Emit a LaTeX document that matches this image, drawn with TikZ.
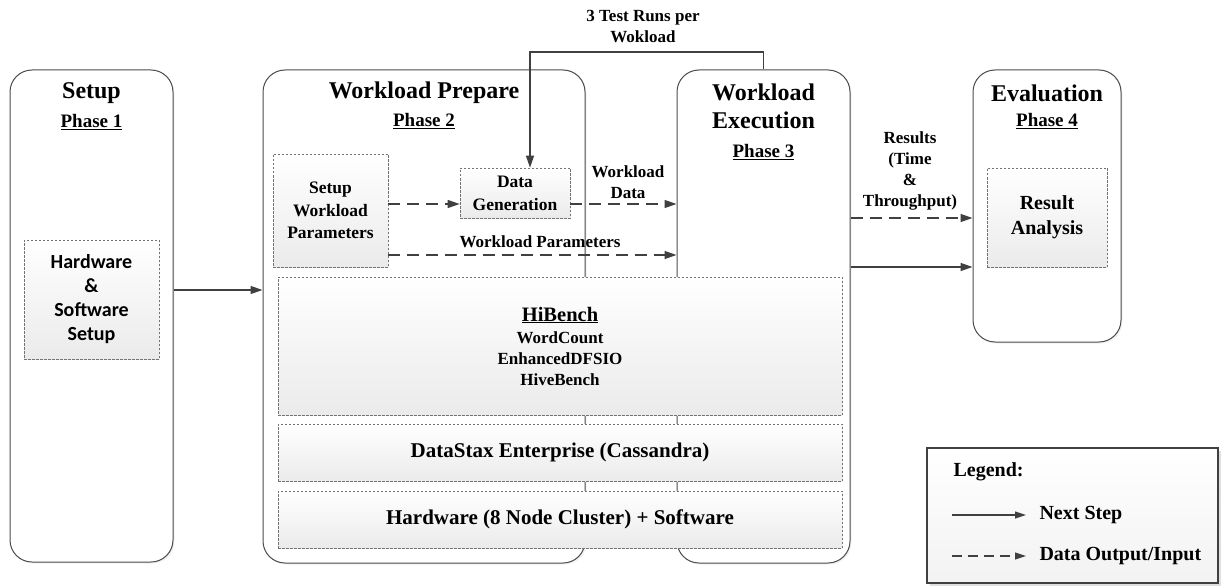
\documentclass[tikz,border=0pt]{standalone}
\usepackage{fontspec}
\setmainfont{Liberation Serif}
\newfontfamily\calib{Carlito}
\usetikzlibrary{arrows.meta,calc,shadows}
\begin{document}
\begin{tikzpicture}[x=1pt,y=-1pt,
  phase/.style={draw=black!70, line width=1pt, rounded corners=22pt, fill=white,
    drop shadow={shadow xshift=1.5pt, shadow yshift=-1.5pt, opacity=0.12}},
  ibox/.style={draw=black!55, dash pattern=on 2.5pt off 1.5pt, line width=0.7pt,
    top color=white, bottom color=black!8, inner sep=0pt, align=center,
    drop shadow={shadow xshift=1.2pt, shadow yshift=-1.2pt, opacity=0.12}},
  ttl/.style={font=\fontsize{24}{28}\selectfont\bfseries, align=center, text=black},
  phs/.style={font=\fontsize{19}{22}\selectfont\bfseries},
  lbl/.style={font=\fontsize{17}{21}\selectfont\bfseries, align=center},
  arr/.style={-{Triangle[length=12pt,width=8pt]}, line width=1.3pt, draw=black!75},
  darr/.style={arr, dash pattern=on 12pt off 7pt},
]
\useasboundingbox (0,0) rectangle (1225,588);

% phase boxes
\node[phase, minimum width=163, minimum height=492] (setup) at (91.5,316) {};
\node[phase, minimum width=322, minimum height=493] (prep) at (424,316.5) {};
\node[phase, minimum width=173, minimum height=493] (exec) at (763.5,316.5) {};
\node[phase, minimum width=148, minimum height=272] (eval) at (1047,206) {};

% titles
\node[ttl] (t1) at (91.5,93) {Setup};
\node[phs] (p1) at (91.5,122) {\underline{Phase 1}};
\node[ttl] (t2) at (424,93) {Workload Prepare};
\node[phs] (p2) at (424,121) {\underline{Phase 2}};
\node[ttl] (t3) at (763.5,106) {Workload\\Execution};
\node[phs] (p3) at (763.5,152) {\underline{Phase 3}};
\node[ttl] (t4) at (1047,93) {Evaluation};
\node[phs] (p4) at (1047,121) {\underline{Phase 4}};

% inner boxes
\node[ibox, minimum width=135, minimum height=119,
  font=\calib\fontsize{20}{24}\selectfont\bfseries] (hw) at (91.5,299.5)
  {Hardware\\\&\\Software\\Setup};
\node[ibox, minimum width=115, minimum height=113,
  font=\fontsize{17.5}{22.5}\selectfont\bfseries] (swp) at (330.5,210.5)
  {Setup\\Workload\\Parameters};
\node[ibox, minimum width=110, minimum height=50,
  font=\fontsize{17.5}{23}\selectfont\bfseries] (dg) at (515,193)
  {Data\\Generation};
\node[ibox, minimum width=120, minimum height=99,
  font=\fontsize{20}{25}\selectfont\bfseries] (ra) at (1047,217.5)
  {Result\\Analysis};
\node[ibox, minimum width=564, minimum height=138,
  font=\fontsize{17}{21}\selectfont\bfseries] (hib) at (560,346)
  {{\fontsize{20.5}{21}\selectfont\underline{HiBench}}\\[1pt]WordCount\\EnhancedDFSIO\\HiveBench};
\node[ibox, minimum width=564, minimum height=57,
  font=\fontsize{21}{24}\selectfont\bfseries] (dse) at (560,452.5)
  {DataStax Enterprise (Cassandra)};
\node[ibox, minimum width=564, minimum height=57,
  font=\fontsize{21}{24}\selectfont\bfseries] (hwc) at (560,519.5)
  {Hardware (8 Node Cluster) + Software};

% row coordinates
\coordinate (r0) at (0,290);
\coordinate (r1) at (0,204);
\coordinate (r2) at (0,255);
\coordinate (r3) at (0,218);
\coordinate (r4) at (0,267);
\coordinate (lp) at (530,52);

% connectors
\draw[arr] (setup.east |- r0) -- (prep.west |- r0);
\draw[darr] (swp.east |- r1) -- (dg.west |- r1);
\draw[darr] (dg.east |- r1) -- (exec.west |- r1);
\draw[darr] (swp.east |- r2) -- (exec.west |- r2);
\draw[arr] (exec.north) |- (lp) -- (lp |- dg.north);
\draw[darr] (exec.east |- r3) -- (eval.west |- r3);
\draw[arr] (exec.east |- r4) -- (eval.west |- r4);

% labels
\node[lbl] (lwd) at (628,182) {Workload\\Data};
\node[lbl] (lwp) at (540,242) {Workload Parameters};
\node[lbl] (ltr) at (643,27) {3 Test Runs per\\Wokload};
\node[lbl] (lres) at (910,171) {Results\\(Time\\\&\\Throughput)};

% legend
\node[draw=black!75, line width=2pt, top color=white, bottom color=black!5,
  minimum width=291, minimum height=135,
  drop shadow={shadow xshift=2.5pt, shadow yshift=-2.5pt, opacity=0.25}] (leg) at (1072.5,515.5) {};
\node[anchor=west, font=\fontsize{20}{24}\selectfont\bfseries] (legt) at (950,472) {Legend:};
\coordinate (l1a) at (952,515);
\coordinate (l1b) at (1026,515);
\coordinate (l2a) at (952,556);
\coordinate (l2b) at (1026,556);
\draw[arr, line width=1.1pt, -{Triangle[length=11pt,width=7pt]}] (l1a) -- (l1b);
\draw[arr, line width=1.1pt, dash pattern=on 10pt off 6pt, -{Triangle[length=11pt,width=7pt]}] (l2a) -- (l2b);
\node[anchor=west, font=\fontsize{20}{24}\selectfont\bfseries] (ln1) at (1036,515) {Next Step};
\node[anchor=west, font=\fontsize{20}{24}\selectfont\bfseries] (ln2) at (1036,556) {Data Output/Input};
\end{tikzpicture}
\end{document}
